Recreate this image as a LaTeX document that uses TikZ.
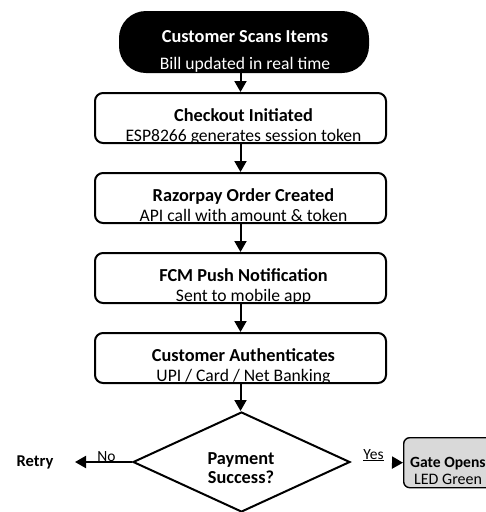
\documentclass[tikz,border=0pt]{standalone}
\usepackage{fontspec}
\setmainfont{Carlito}
\usetikzlibrary{arrows.meta,shapes.geometric}
\begin{document}
\begin{tikzpicture}[x=1pt,y=-1pt,
  box/.style={draw, line width=2pt, rounded corners=8pt, minimum width=291pt, minimum height=50pt, inner sep=0pt},
  arr/.style={line width=2pt, -{Triangle[width=12pt,length=11pt]}},
  t1/.style={anchor=base, inner sep=0pt, font=\fontsize{18.3}{20}\selectfont\bfseries},
  t2/.style={anchor=base, inner sep=0pt, font=\fontsize{17.6}{20}\selectfont},
  small/.style={anchor=base, inner sep=0pt, font=\fontsize{15.5}{17}\selectfont}]
\useasboundingbox (0,0) rectangle (486,512);
% top terminal
\node[draw, fill=black, line width=2pt, rounded corners=26pt, minimum width=248pt, minimum height=60pt, inner sep=0pt] (b0) at (244,42) {};
\node[t1, text=white] (b0a) at (245,42) {Customer Scans Items};
\node[t2, text=white] (b0b) at (245,69) {Bill updated in real time};
% process boxes
\node[box] (b1) at (240.5,118) {};
\node[t1] (b1a) at (243.5,121) {Checkout Initiated};
\node[t2] (b1b) at (243.5,141) {ESP8266 generates session token};
\node[box] (b2) at (240.5,198) {};
\node[t1] (b2a) at (243.5,201) {Razorpay Order Created};
\node[t2] (b2b) at (243.5,221) {API call with amount \& token};
\node[box] (b3) at (240.5,278) {};
\node[t1] (b3a) at (243.5,281) {FCM Push Notification};
\node[t2] (b3b) at (243.5,301) {Sent to mobile app};
\node[box] (b4) at (240.5,358) {};
\node[t1] (b4a) at (243.5,361) {Customer Authenticates};
\node[t2] (b4b) at (243.5,381) {UPI / Card / Net Banking};
% decision
\node[diamond, draw, line width=2pt, minimum width=217pt, minimum height=100pt, inner sep=0pt] (d) at (241.5,462) {};
\node[t1] (da) at (241,464) {Payment};
\node[t1] (db) at (241,483) {Success?};
% outcomes
\node[t1, font=\fontsize{16.5}{18}\selectfont\bfseries] (retry) at (35,466) {Retry};
\coordinate (retryend) at (75,462);
\node[draw, fill=black!15, line width=1.4pt, rounded corners=6pt, minimum width=95pt, minimum height=50pt, inner sep=0pt, anchor=north west] (g) at (403,437) {};
\node[t1, anchor=base west, font=\fontsize{15.6}{18}\selectfont\bfseries] (ga) at (410,467) {Gate Opens};
\node[t2, anchor=base west, font=\fontsize{16}{18}\selectfont] (gb) at (414,484) {LED Green};
% connectors
\draw[arr] (b0.south -| b1.north) -- (b1.north);
\draw[arr] (b1) -- (b2);
\draw[arr] (b2) -- (b3);
\draw[arr] (b3) -- (b4);
\draw[arr] (b4.south) -- (b4.south |- d.north);
\draw[arr] (d.west) -- (retryend) node[small, pos=0.45, above=1pt, anchor=base] {No};
\draw[arr, shorten <=43pt] (d.east) -- (g.west);
\node[small, anchor=base] (yes) at (373.5,459) {\underline{Yes}};
\end{tikzpicture}
\end{document}
